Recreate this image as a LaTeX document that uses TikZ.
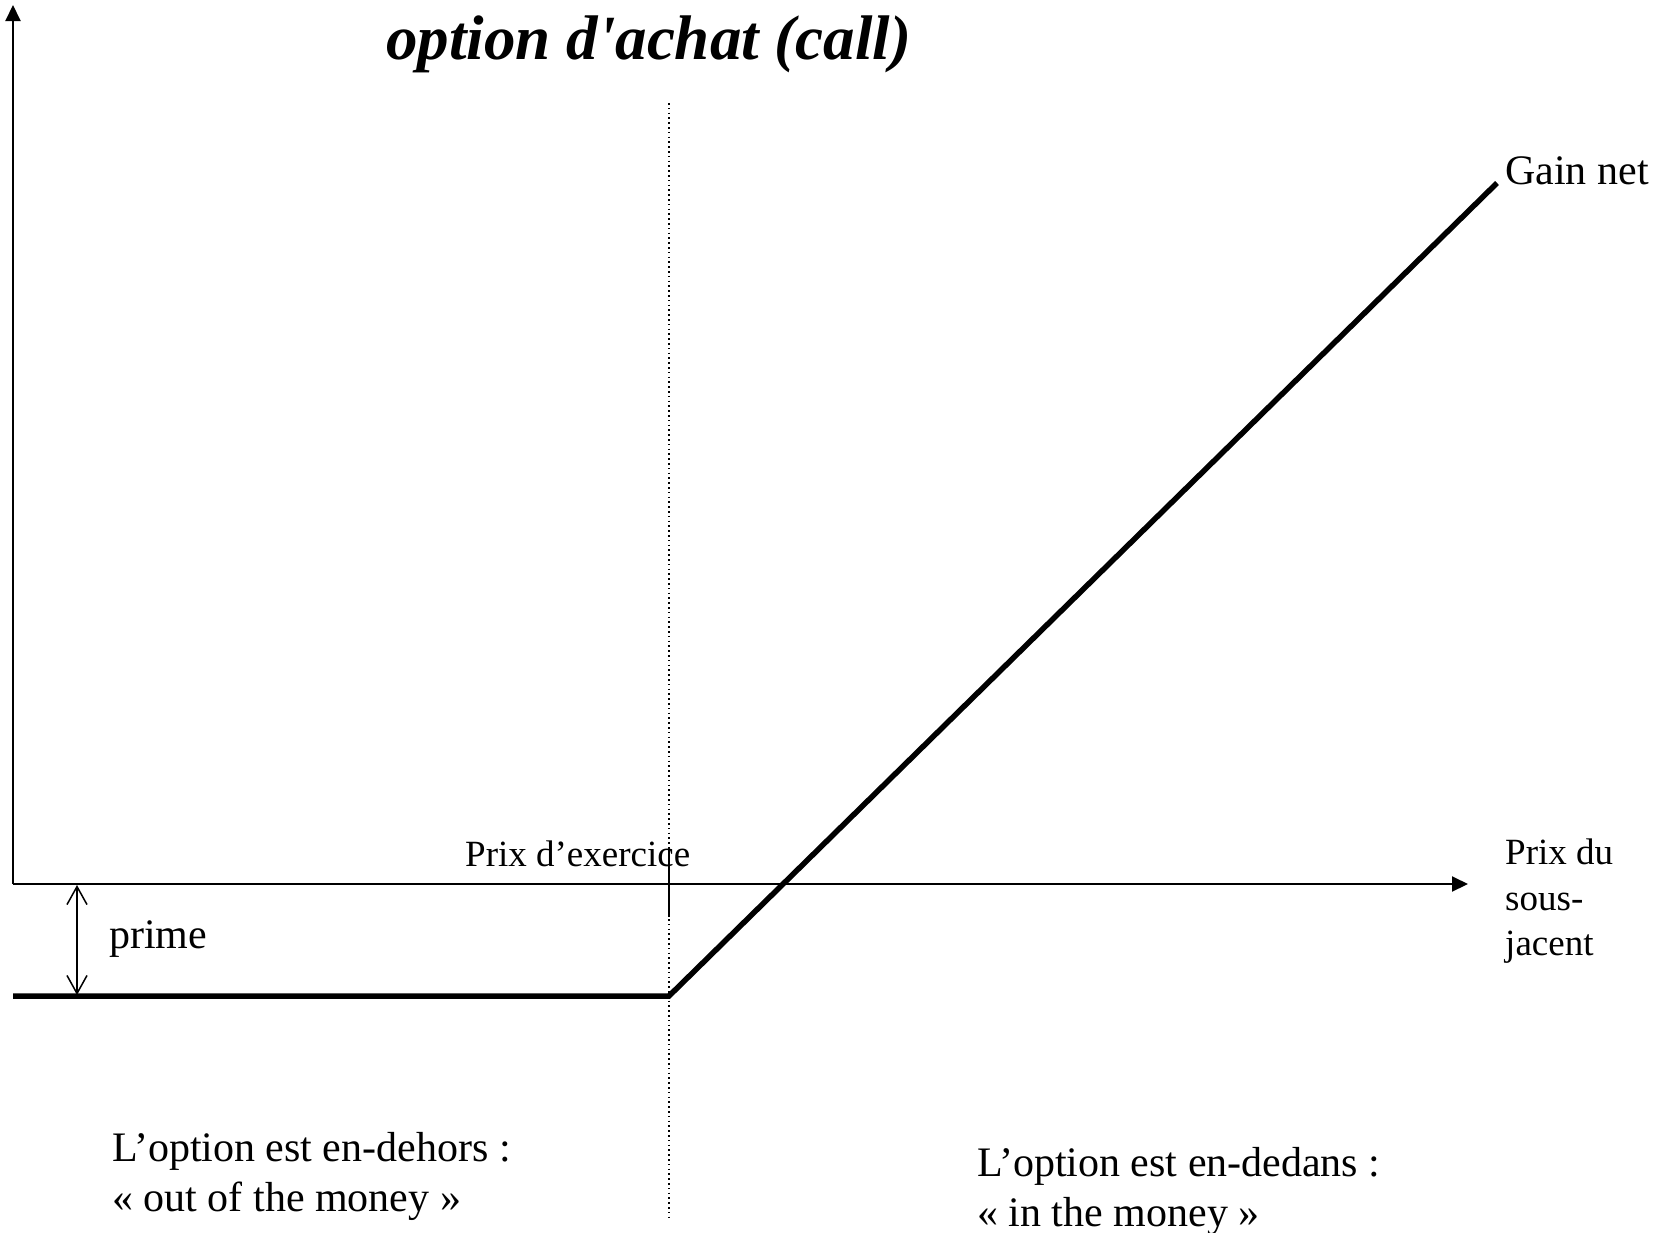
\documentclass[tikz,border=0pt]{standalone}
\usepackage{fontspec}
\setmainfont{Liberation Serif}
% family without TeX ligatures, so ' stays a straight apostrophe
\newfontfamily\titlefont{Liberation Serif}
\usetikzlibrary{arrows.meta}
\begin{document}
\begin{tikzpicture}[x=1pt,y=-1pt,
  axis/.style={line width=2pt,-{Triangle[length=16pt,width=15pt]}},
  payoff/.style={line width=5.5pt,line join=miter},
  guide/.style={line width=1.6pt,dash pattern=on 1.6pt off 3.2pt},
  tickmark/.style={line width=1.8pt},
  gap/.style={line width=1.5pt,{Straight Barb[length=18pt,width=20pt]}-{Straight Barb[length=18pt,width=20pt]}},
  lbl/.style={inner sep=0pt,anchor=base west,font=\fontsize{42}{50}\selectfont},
  small/.style={inner sep=0pt,anchor=base west,font=\fontsize{37}{45.5}\selectfont,align=left},
  heading/.style={inner sep=0pt,anchor=base west,font=\titlefont\fontsize{63}{70}\selectfont\bfseries\itshape}]
\useasboundingbox (0,0) rectangle (1671,1232);

% key points of the graph
\coordinate (O) at (13,884);
\coordinate (ytop) at (13,5);
\coordinate (xend) at (1468,884);
\coordinate (start) at (13,996);
\coordinate (K) at (669,996);
\coordinate (G) at (1497,183);
\coordinate (gtop) at (669,103);
\coordinate (gbot) at (669,1221);
\coordinate (ktop) at (669,848);
\coordinate (kbot) at (669,917);
\coordinate (pa) at (77,885);
\coordinate (pb) at (77,995);

% strike price guide line
\draw[guide] (gtop) -- (gbot);

% axes
\draw[axis] (O) -- (ytop);
\draw[axis] (O) -- (xend);
\draw[tickmark] (ktop) -- (kbot);

% net payoff of the call
\draw[payoff] (start) -- (K) -- (G);

% premium
\draw[gap] (pa) -- (pb);

% labels
\node[heading] (title) at (386,59) {option d'achat (call)};
\node[lbl] (gain) at (1505,184) {Gain net};
\node[small] (strike) at (465,866) {Prix d’exercice};
\node[small,anchor=north west] (under) at (1505,839) {Prix du\\sous-\\jacent};
\node[lbl] (prime) at (109,948) {prime};
\node[lbl,align=left,anchor=base west] (out) at (112,1211) {L’option est en-dehors :\\[0pt]« out of the money »};
\node[lbl,align=left,anchor=base west] (in) at (977,1226) {L’option est en-dedans :\\[0pt]« in the money »};
\end{tikzpicture}
\end{document}
